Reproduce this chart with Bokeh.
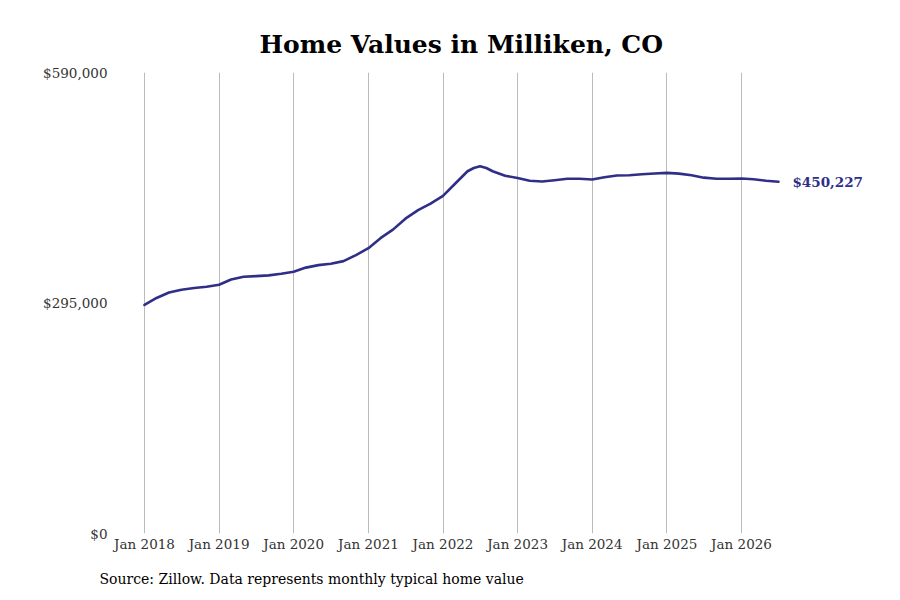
from datetime import datetime, timedelta
from bokeh.plotting import figure
from bokeh.models import (ColumnDataSource, FixedTicker, DatetimeTickFormatter,
                          Range1d, Title, Label, NumeralTickFormatter)
from bokeh.embed import file_html
from bokeh.resources import INLINE

# ---- data ----
dates = ["2018-01", "2018-03", "2018-05", "2018-07", "2018-09", "2018-11",
         "2019-01", "2019-03", "2019-05", "2019-07", "2019-09", "2019-11",
         "2020-01", "2020-03", "2020-05", "2020-07", "2020-09", "2020-11",
         "2021-01", "2021-03", "2021-05", "2021-07", "2021-09", "2021-11",
         "2022-01", "2022-03", "2022-05", "2022-06", "2022-07", "2022-08",
         "2022-09", "2022-11",
         "2023-01", "2023-03", "2023-05", "2023-07", "2023-09", "2023-11",
         "2024-01", "2024-03", "2024-05", "2024-07", "2024-09", "2024-11",
         "2025-01", "2025-03", "2025-05", "2025-07", "2025-09", "2025-11",
         "2026-01", "2026-03", "2026-05", "2026-07"]
values = [292450, 301400, 308400, 312000, 314200, 315900,
          318400, 325000, 328500, 329400, 330400, 332400,
          335000, 340300, 343500, 345200, 348600, 356300,
          365200, 378000, 388900, 402900, 413800, 422100,
          432000, 447600, 463600, 467800, 470000, 467800,
          463600, 457800,
          455000, 451400, 450400, 452100, 454000, 454000,
          453000, 455900, 458200, 458500, 459700, 460800,
          461500, 460600, 458500, 455400, 454100, 454100,
          454300, 453400, 451400, 450227]
tick_years = [2018, 2019, 2020, 2021, 2022, 2023, 2024, 2025, 2026]
y_ticks = [0, 295000, 590000]
last_label = "$450,227"
title_text = "Home Values in Milliken, CO"
source_text = "Source: Zillow. Data represents monthly typical home value"

LINE = "#302f88"
SERIF = "DejaVu Serif"

xs = [datetime.strptime(d, "%Y-%m") for d in dates]
src = ColumnDataSource(dict(x=xs, y=values))

day_px = 74.625 / 365.25
x0 = datetime(2018, 1, 1) - timedelta(days=32 / day_px)
x1 = datetime(2018, 1, 1) + timedelta(days=(880 - 144) / day_px)

p = figure(width=884, height=600, output_backend="svg", toolbar_location=None,
           x_axis_type="datetime",
           x_range=Range1d(x0, x1), y_range=Range1d(0, 590000),
           min_border_left=112, min_border_right=4,
           min_border_top=72, min_border_bottom=66)
p.outline_line_color = None
p.background_fill_color = "white"

p.line("x", "y", source=src, line_color=LINE, line_width=2.6,
       line_join="round", line_cap="round")

lbl = Label(x=xs[-1], y=values[-1], text=last_label, x_offset=14,
            text_baseline="middle", text_align="left",
            text_font=SERIF, text_font_style="bold", text_font_size="13.5px",
            text_color=LINE)
p.add_layout(lbl)

# axes
tick_ms = [datetime(y, 1, 1).timestamp() * 1000 for y in tick_years]
p.xaxis.ticker = FixedTicker(ticks=tick_ms)
p.xaxis.formatter = DatetimeTickFormatter(days="%b %Y", months="%b %Y", years="%b %Y")
p.yaxis.ticker = FixedTicker(ticks=y_ticks)
p.yaxis.formatter = NumeralTickFormatter(format="$0,0")
for ax in (p.xaxis[0], p.yaxis[0]):
    ax.axis_line_color = None
    ax.major_tick_line_color = None
    ax.minor_tick_line_color = None
    ax.major_tick_out = 0
    ax.major_tick_in = 0
    ax.major_label_text_font = SERIF
    ax.major_label_text_font_size = "13.5px"
    ax.major_label_text_color = "#333333"
p.xaxis.major_label_standoff = 2
p.yaxis.major_label_standoff = 5

p.xgrid.grid_line_color = "#bbbbbb"
p.xgrid.grid_line_width = 1
p.ygrid.grid_line_color = None

p.title = Title(text=title_text, align="left", offset=147,
                text_font=SERIF, text_font_style="bold",
                text_font_size="25px", text_color="black", standoff=27)
p.add_layout(Title(text=source_text, align="left", offset=-13,
                   text_font=SERIF, text_font_style="normal",
                   text_font_size="14px", text_color="black", standoff=28),
             "below")

open("out.html", "w").write(file_html(p, INLINE))
